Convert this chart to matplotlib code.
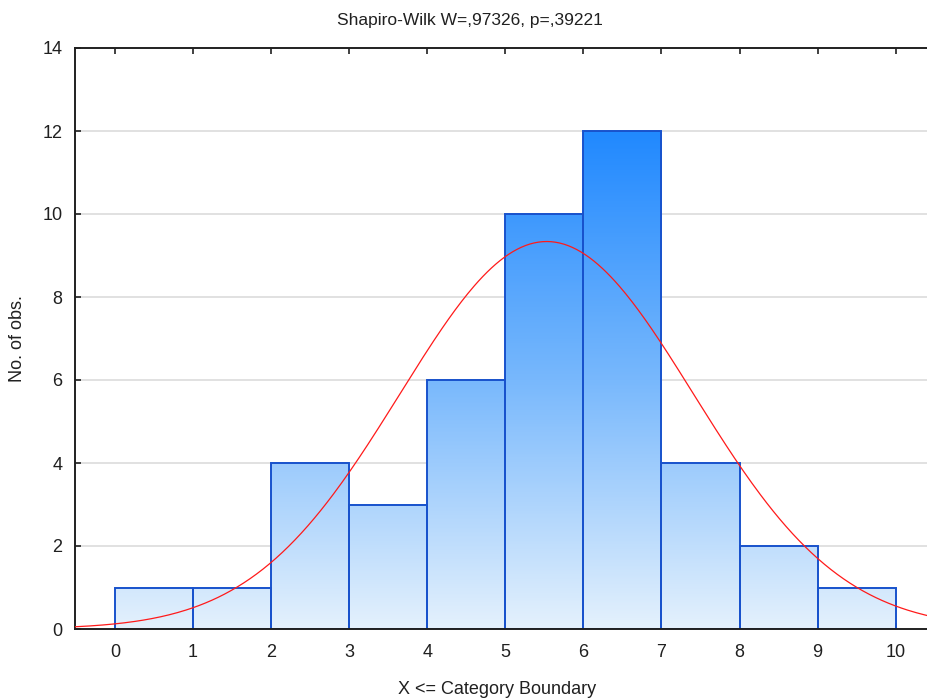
import numpy as np
import matplotlib
matplotlib.use("Agg")
import matplotlib.pyplot as plt
from matplotlib.colors import LinearSegmentedColormap

# histogram data (X <= category boundary)
bin_edges = [0, 1, 2, 3, 4, 5, 6, 7, 8, 9, 10]
counts = [1, 1, 4, 3, 6, 10, 12, 4, 2, 1]
x_ticks = [0, 1, 2, 3, 4, 5, 6, 7, 8, 9, 10]
y_ticks = [0, 2, 4, 6, 8, 10, 12, 14]

# fitted normal curve parameters
fit_mean = 5.53
fit_sd = 1.88

title_text = "Shapiro-Wilk W=,97326, p=,39221"

plt.rcParams['font.family'] = ['Liberation Sans', 'DejaVu Sans']

fig = plt.figure(figsize=(9.27, 6.99), dpi=100)
ax = fig.add_axes([75 / 927, 70 / 699, 852 / 927, 581 / 699])

xmin, xmax = -0.51, 10.4
ymin, ymax = 0, 14
ax.set_xlim(xmin, xmax)
ax.set_ylim(ymin, ymax)

for y in y_ticks[1:-1]:
    ax.axhline(y, color='#dcdcdc', lw=1.2, zorder=0)

cmap = LinearSegmentedColormap.from_list('grad', ['#e4f1fd', '#78b8fc', '#2189ff'])
top = max(counts)
for i in range(len(counts)):
    x0, x1 = bin_edges[i], bin_edges[i + 1]
    h = counts[i]
    grad = np.linspace(0, h / top, 200).reshape(-1, 1)
    ax.imshow(grad, cmap=cmap, vmin=0, vmax=1, origin='lower', aspect='auto',
              extent=(x0, x1, 0, h), zorder=1, interpolation='bilinear')

widths = np.diff(bin_edges)
ax.bar(bin_edges[:-1], counts, width=widths, align='edge', facecolor='none',
       edgecolor='#1852cc', lw=1.4, zorder=2)

xs = np.linspace(xmin, xmax, 400)
n = sum(counts)
ys = n * 1.0 / (fit_sd * np.sqrt(2 * np.pi)) * np.exp(-0.5 * ((xs - fit_mean) / fit_sd) ** 2)
ax.plot(xs, ys, color='#ff1a1a', lw=0.9, zorder=3)

ax.set_xlim(xmin, xmax)
ax.set_ylim(ymin, ymax)

ax.set_xticks(x_ticks)
ax.set_yticks(y_ticks)
ax.tick_params(axis='x', direction='in', length=4, width=1.2, top=True,
               labelsize=13, pad=11, colors='#202020')
ax.tick_params(axis='y', direction='in', length=4, width=1.2, right=False,
               labelsize=13, pad=9, colors='#202020')

for side in ['left', 'top', 'bottom']:
    ax.spines[side].set_linewidth(1.4)
    ax.spines[side].set_color('#202020')
ax.spines['right'].set_visible(False)

ax.set_xlabel("X <= Category Boundary", fontsize=13, color='#202020')
ax.xaxis.set_label_coords((497 - 75) / 852, -0.09)
ax.set_ylabel("No. of obs.", fontsize=13, color='#202020')
ax.yaxis.set_label_coords(-0.057, 0.5)

fig.text(470 / 927, 1 - 20 / 699, title_text, ha='center', va='center',
         fontsize=12.5, color='#202020')

fig.savefig("out.png", dpi=100)
